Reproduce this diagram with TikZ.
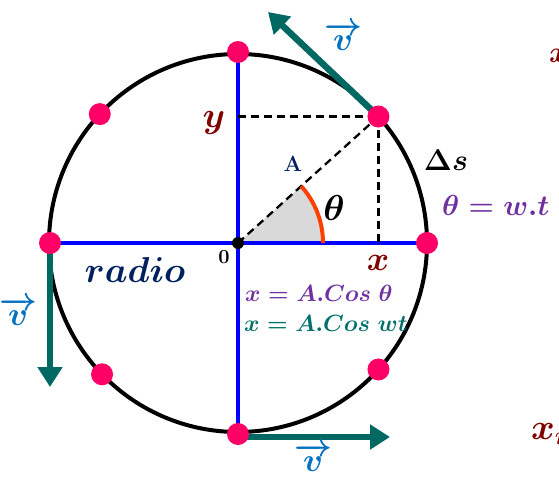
\RequirePackage{fix-cm}
\documentclass[tikz,border=0pt]{standalone}
\usepackage{amsmath,bm}
\usetikzlibrary{arrows.meta,calc}
\definecolor{dotpink}{RGB}{255,0,102}
\definecolor{axisblue}{RGB}{0,0,255}
\definecolor{arrteal}{RGB}{0,104,98}
\definecolor{vblue}{RGB}{0,112,192}
\definecolor{dred}{RGB}{128,0,0}
\definecolor{navy}{RGB}{0,32,96}
\definecolor{purp}{RGB}{112,48,160}
\definecolor{eqteal}{RGB}{0,112,106}
\definecolor{arcred}{RGB}{255,64,0}
\tikzset{
  pt/.style={circle,fill=dotpink,inner sep=0pt,minimum size=22pt},
  vel/.style={draw=arrteal,line width=6.5pt,-{Triangle[length=20pt,width=24pt]}},
  axis/.style={draw=axisblue,line width=4pt},
  guide/.style={draw=black,line width=2.3pt,dash pattern=on 8pt off 5pt},
  lbl/.style={inner sep=0pt},
  vlbl/.style={lbl,anchor=base,text=vblue,font=\fontsize{33}{33}\selectfont},
}
\begin{document}
\begin{tikzpicture}[x=1pt,y=-1pt]
\useasboundingbox (0,0) rectangle (559,477);
\coordinate (O) at (238,243);
% gray sector
\fill[gray!30] (O) -- ++(0:85) arc[start angle=0,end angle=-42,radius=85] -- cycle;
% axes
\coordinate (L) at (50,243);
\coordinate (Rr) at (427,243);
\coordinate (T) at (238,52);
\coordinate (B) at (238,434);
\draw[axis] (L) -- (Rr);
\draw[axis] (T) -- (B);
% point P
\coordinate (P) at ($(O)+(-42:189)$);
\coordinate (Py) at (O |- P);
\coordinate (Px) at (P |- O);
\draw[guide] (O) -- (P);
\draw[guide] (Py) -- (P);
\draw[guide] (P) -- (Px);
% circle
\draw[line width=4pt] (O) circle[radius=189];
% angle arc
\draw[arcred,line width=4pt] ($(O)+(0:85)$) arc[start angle=0,end angle=-42,radius=85];
% velocity arrows
\coordinate (Vt) at (268,12);
\coordinate (Vl) at (50,387);
\coordinate (Vb) at (390,437);
\draw[vel] (P) -- (Vt);
\draw[vel] (L) -- (Vl);
\draw[vel] (239,437) -- (Vb);
% dots
\node[pt] (d1) at (P) {};
\node[pt] (d2) at (T) {};
\node[pt] (d3) at ($(O)+(-137:189)$) {};
\node[pt] (d4) at (L) {};
\node[pt] (d5) at ($(O)+(136:189)$) {};
\node[pt] (d6) at (B) {};
\node[pt] (d7) at ($(O)+(42:189)$) {};
\node[pt] (d8) at (Rr) {};
\fill (O) circle[radius=6];
% labels
\boldmath
\node[vlbl] (v1) at (343,50) {$\overrightarrow{v}$};
\node[vlbl] (v2) at (18,325) {$\overrightarrow{v}$};
\node[vlbl] (v3) at (313,471) {$\overrightarrow{v}$};
\node[lbl,text=dred,font=\fontsize{36}{36}\selectfont] (ly) at (214,123) {$\bm{y}$};
\node[lbl,text=dred,font=\fontsize{34}{34}\selectfont] (lx) at (378,263) {$\bm{x}$};
\node[lbl,text=navy,font=\fontsize{22}{22}\selectfont\bfseries] (lA) at (293,164) {A};
\node[lbl,font=\fontsize{36}{36}\selectfont] (lth) at (334,208) {$\bm{\theta}$};
\node[lbl,font=\fontsize{30}{30}\selectfont] (lds) at (446,160) {$\Delta\bm{s}$};
\node[lbl,text=purp,anchor=west,font=\fontsize{29}{29}\selectfont] (lwt) at (442,205) {$\bm{\theta = w.t}$};
\node[lbl,font=\fontsize{20}{20}\selectfont\bfseries] (l0) at (224,257) {0};
\node[lbl,text=navy,font=\fontsize{36}{36}\selectfont] (lr) at (135,270) {$\bm{radio}$};
\node[lbl,text=purp,anchor=west,font=\fontsize{23.5}{23.5}\selectfont] (e1) at (245,293) {$\bm{x = A.Cos\;\theta}$};
\node[lbl,text=eqteal,anchor=west,font=\fontsize{23.5}{23.5}\selectfont] (e2) at (244,323) {$\bm{x = A.Cos\;wt}$};
\node[lbl,text=dred,anchor=west,font=\fontsize{30}{30}\selectfont] (cx) at (549,56) {$\bm{x}$};
\node[lbl,text=dred,anchor=west,font=\fontsize{36}{36}\selectfont] (cxm) at (531,434) {$\bm{x_m}$};
\end{tikzpicture}
\end{document}
